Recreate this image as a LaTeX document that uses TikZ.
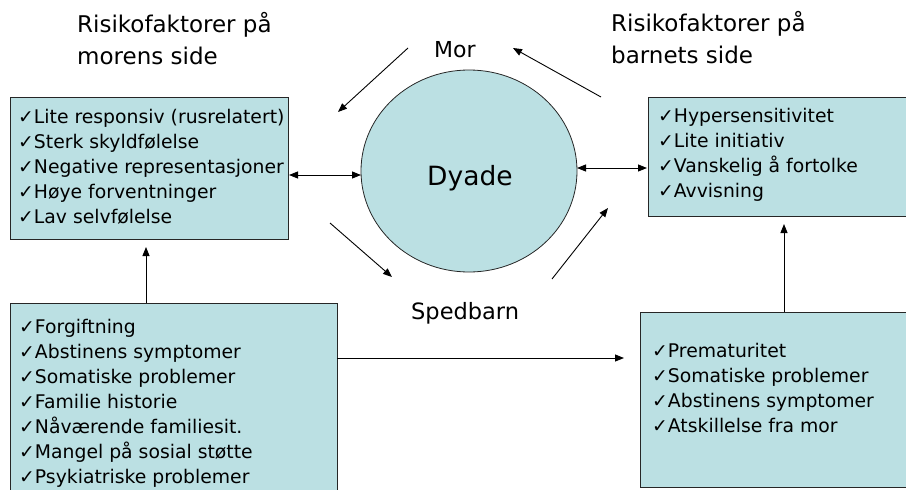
\documentclass[tikz,border=0pt]{standalone}
\usepackage{fontspec}
\setmainfont{DejaVu Sans}
\usetikzlibrary{arrows.meta,shapes.geometric}
\definecolor{boxfill}{HTML}{BBE0E3}
\newcommand{\ck}{\strut✓}
\tikzset{
  riskbox/.style={draw=black!85, line width=0.8pt, fill=boxfill, anchor=north west, inner sep=0pt},
  listtext/.style={anchor=north west, inner sep=0pt, align=left, font=\fontsize{18.8}{25}\selectfont},
  titletext/.style={anchor=north west, inner sep=0pt, align=left, font=\fontsize{23}{32}\selectfont},
  conn/.style={line width=0.9pt, -{Triangle[length=9pt,width=7pt]}},
  dconn/.style={line width=0.9pt, {Triangle[length=9pt,width=7pt]}-{Triangle[length=9pt,width=7pt]}},
}
\begin{document}
\begin{tikzpicture}[x=1pt,y=-1pt]
\useasboundingbox (0,0) rectangle (906,490);
% titles
\node[titletext] (tl) at (77,9.6) {\strut Risikofaktorer på\\morens side};
\node[titletext] (tr) at (611,8.6) {\strut Risikofaktorer på\\barnets side};
% circle
\node[draw=black!85, line width=0.8pt, fill=boxfill, ellipse, minimum width=216pt, minimum height=202pt, inner sep=0pt] (dy) at (469,171) {};
\node[anchor=base west, inner sep=0pt, font=\fontsize{26.5}{32}\selectfont] (dyt) at (427,185) {Dyade};
\node[anchor=base west, inner sep=0pt, font=\fontsize{22}{30}\selectfont] (mor) at (434,57) {Mor};
\node[anchor=base west, inner sep=0pt, font=\fontsize{22.5}{30}\selectfont] (sped) at (411,319) {Spedbarn};
% boxes
\node[riskbox, minimum width=278pt, minimum height=142pt] (b1) at (10,97) {};
\node[riskbox, minimum width=262pt, minimum height=119pt] (b2) at (648,97) {};
\node[riskbox, minimum width=327pt, minimum height=200pt] (b3) at (10,303) {};
\node[riskbox, minimum width=270pt, minimum height=175pt] (b4) at (640,312) {};
% box texts
\node[listtext] (t1) at (18,105.5) {\ck Lite responsiv (rusrelatert)\\✓Sterk skyldfølelse\\✓Negative representasjoner\\✓Høye forventninger\\✓Lav selvfølelse};
\node[listtext] (t2) at (658,104.5) {\ck Hypersensitivitet\\✓Lite initiativ\\✓Vanskelig å fortolke\\✓Avvisning};
\node[listtext] (t3) at (19,315.5) {\ck Forgiftning\\✓Abstinens symptomer\\✓Somatiske problemer\\✓Familie historie\\✓Nåværende familiesit.\\✓Mangel på sosial støtte\\✓Psykiatriske problemer};
\node[listtext] (t4) at (652,339.5) {\ck Prematuritet\\✓Somatiske problemer\\✓Abstinens symptomer\\✓Atskillelse fra mor};
% connector end points
\coordinate (a1s) at (408,48);  \coordinate (a1e) at (338,112);
\coordinate (a2s) at (601,97);  \coordinate (a2e) at (513,48);
\coordinate (a3s) at (330,223); \coordinate (a3e) at (392,277);
\coordinate (a4s) at (552,279); \coordinate (a4e) at (608,208);
\coordinate (b1l) at (289,175); \coordinate (dyl) at (361,175);
\coordinate (dyr) at (577,168); \coordinate (b2l) at (647,168);
\coordinate (b3t) at (146,303); \coordinate (b1b) at (146,247);
\coordinate (b3r) at (337,358); \coordinate (b4l) at (624,358);
\coordinate (b4t) at (784,312); \coordinate (b2b) at (784,224);
% connectors
\draw[conn] (a1s) -- (a1e);
\draw[conn] (a2s) -- (a2e);
\draw[conn] (a3s) -- (a3e);
\draw[conn] (a4s) -- (a4e);
\draw[dconn] (b1l) -- (dyl);
\draw[dconn] (dyr) -- (b2l);
\draw[conn] (b3t) -- (b1b);
\draw[conn] (b3r) -- (b4l);
\draw[conn] (b4t) -- (b2b);
\end{tikzpicture}
\end{document}
